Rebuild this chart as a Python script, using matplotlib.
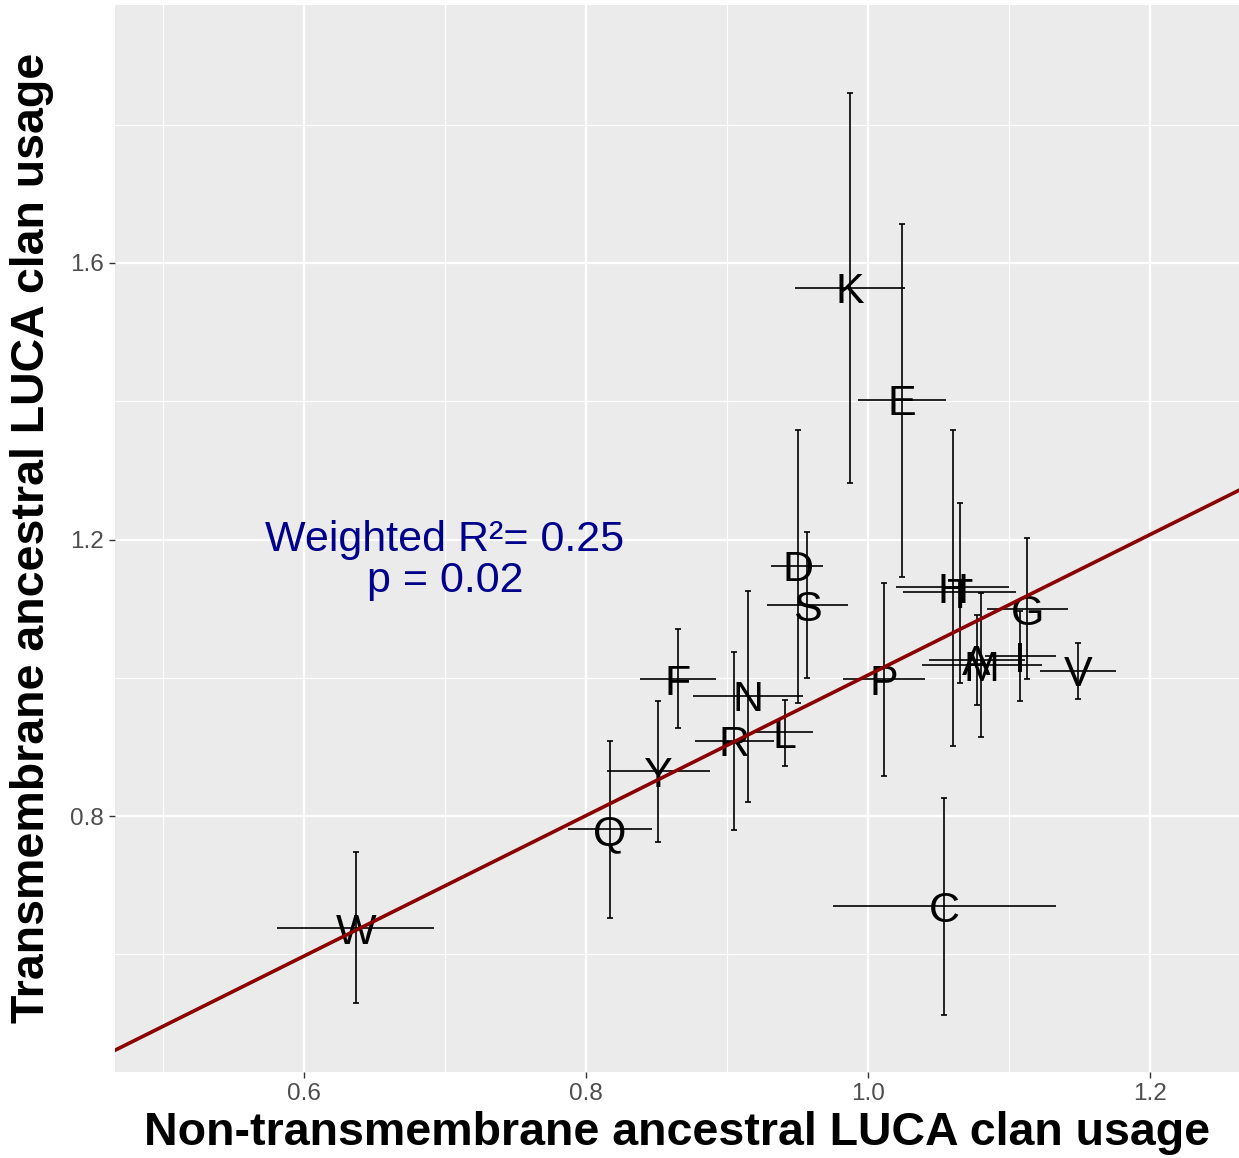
import matplotlib
matplotlib.use("Agg")
import matplotlib.pyplot as plt
from matplotlib.ticker import FormatStrFormatter

plt.rcParams['font.family'] = ['Liberation Sans', 'DejaVu Sans']

# amino acid clan usage (non-TM on x, TM on y) with error ranges
letters = ['W', 'Q', 'Y', 'F', 'R', 'N', 'L', 'D', 'S', 'K',
           'E', 'P', 'H', 'T', 'C', 'A', 'M', 'I', 'G', 'V']
x_val = [0.637, 0.817, 0.851, 0.865, 0.905, 0.915, 0.941, 0.950, 0.957, 0.987,
         1.024, 1.011, 1.060, 1.065, 1.054, 1.077, 1.080, 1.108, 1.113, 1.149]
y_val = [0.638, 0.781, 0.865, 0.998, 0.909, 0.974, 0.921, 1.162, 1.105, 1.564,
         1.402, 0.998, 1.131, 1.124, 0.670, 1.026, 1.018, 1.031, 1.099, 1.010]
x_lo = [0.581, 0.787, 0.815, 0.838, 0.877, 0.876, 0.919, 0.931, 0.928, 0.948,
        0.993, 0.982, 1.020, 1.025, 0.975, 1.043, 1.038, 1.083, 1.084, 1.122]
x_hi = [0.692, 0.847, 0.888, 0.892, 0.933, 0.954, 0.961, 0.968, 0.986, 1.026,
        1.055, 1.040, 1.100, 1.105, 1.133, 1.111, 1.123, 1.133, 1.142, 1.176]
y_lo = [0.530, 0.653, 0.763, 0.927, 0.780, 0.821, 0.872, 0.964, 1.000, 1.282,
        1.146, 0.858, 0.902, 0.993, 0.513, 0.961, 0.914, 0.966, 0.998, 0.970]
y_hi = [0.748, 0.909, 0.966, 1.071, 1.037, 1.126, 0.968, 1.359, 1.211, 1.846,
        1.657, 1.137, 1.359, 1.253, 0.826, 1.091, 1.122, 1.096, 1.202, 1.051]

# weighted fit
slope = 1.016
intercept = -0.012
fit_text = "Weighted R²= 0.25\np = 0.02"

fig = plt.figure(figsize=(12.39, 11.58), dpi=100)
ax = fig.add_axes([115 / 1239, 1 - 1072 / 1158, 1 - 115 / 1239, (1072 - 5) / 1158])
ax.set_facecolor('#EBEBEB')
for s in ax.spines.values():
    s.set_visible(False)

ax.set_xlim(0.466, 1.263)
ax.set_ylim(0.430, 1.973)
ax.set_xticks([0.6, 0.8, 1.0, 1.2])
ax.set_yticks([0.8, 1.2, 1.6])
ax.set_xticks([0.5, 0.7, 0.9, 1.1], minor=True)
ax.set_yticks([0.6, 1.0, 1.4, 1.8], minor=True)
ax.grid(which='major', color='white', linewidth=1.6)
ax.grid(which='minor', color='white', linewidth=0.8)
ax.set_axisbelow(True)
ax.tick_params(which='major', length=4, width=1, color='#333333',
               labelsize=17.5, labelcolor='#4D4D4D', pad=4)
ax.tick_params(which='minor', length=0)
ax.xaxis.set_major_formatter(FormatStrFormatter('%.1f'))
ax.yaxis.set_major_formatter(FormatStrFormatter('%.1f'))

xerr = [[x - lo for x, lo in zip(x_val, x_lo)], [hi - x for x, hi in zip(x_val, x_hi)]]
yerr = [[y - lo for y, lo in zip(y_val, y_lo)], [hi - y for y, hi in zip(y_val, y_hi)]]
ax.errorbar(x_val, y_val, yerr=yerr, fmt='none', ecolor='black',
            elinewidth=1.2, capsize=2, capthick=1.2, zorder=2)
ax.errorbar(x_val, y_val, xerr=xerr, fmt='none', ecolor='black',
            elinewidth=1.2, capsize=0, zorder=2)

for lab, x, y in zip(letters, x_val, y_val):
    ax.text(x, y, lab, fontsize=31, ha='center', va='center_baseline', color='black', zorder=3)

ax.axline((0, intercept), slope=slope, color='#8B0000', linewidth=2.6, zorder=4)

ax.text(0.70, 1.17, fit_text, fontsize=31, color='#00008B', ha='center', va='center',
        linespacing=1.02, zorder=5)

fig.text((115 + 1239) / 2 / 1239, 1 - 1133 / 1158,
         "Non-transmembrane ancestral LUCA clan usage",
         fontsize=33.5, fontweight='bold', ha='center', va='center')
fig.text(32 / 1239, 1 - 538 / 1158, "Transmembrane ancestral LUCA clan usage",
         fontsize=33.5, fontweight='bold', ha='center', va='center', rotation=90)

fig.savefig('out.png', dpi=100)
